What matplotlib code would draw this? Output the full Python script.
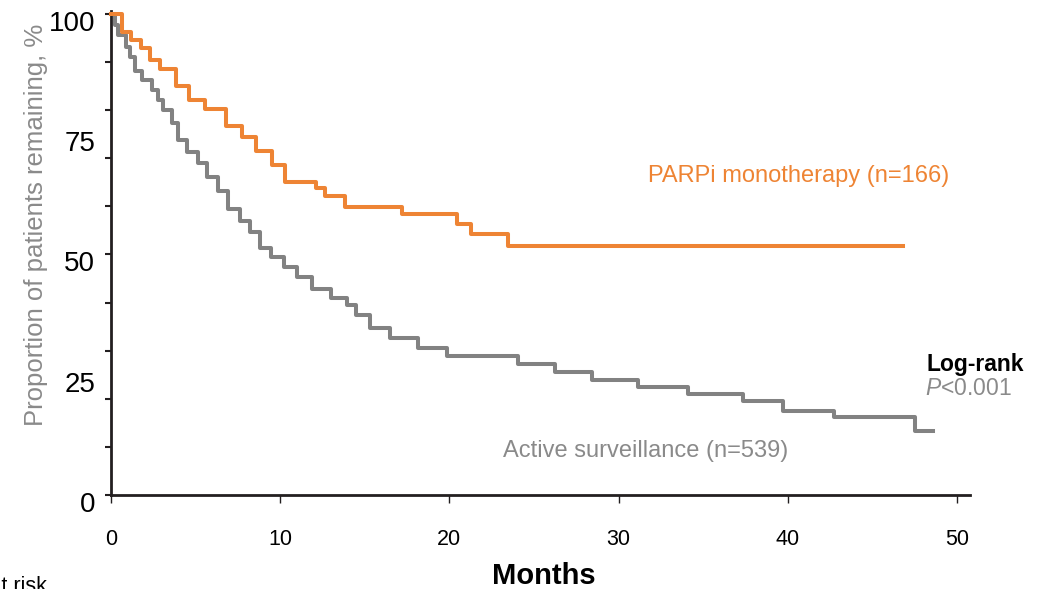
import matplotlib
matplotlib.use("Agg")
import matplotlib.pyplot as plt
import matplotlib.transforms as mtransforms
from matplotlib.ticker import FixedLocator, NullFormatter

plt.rcParams['font.family'] = ['Liberation Sans', 'DejaVu Sans']
plt.rcParams['mathtext.fontset'] = 'custom'
plt.rcParams['mathtext.rm'] = 'Liberation Sans'
plt.rcParams['mathtext.it'] = 'Liberation Sans:italic'

# ---- data ----
parpi_t = [0, 0.63, 1.16, 1.75, 2.3, 2.9, 3.84, 4.63, 5.55, 6.77, 7.72, 8.6, 9.49,
           10.28, 12.1, 12.65, 13.83, 17.17, 20.47, 21.28, 23.48, 46.83]
parpi_s = [100, 96.2, 94.6, 92.9, 90.4, 88.5, 85.0, 82.1, 80.2, 76.7, 74.4, 71.5, 68.5,
           65.1, 63.8, 62.2, 59.8, 58.4, 56.3, 54.3, 51.8, 51.8]

surv_t = [0, 0.24, 0.43, 0.89, 1.12, 1.42, 1.81, 2.4, 2.8, 3.09, 3.59, 3.98, 4.47, 5.16,
          5.66, 6.34, 6.93, 7.62, 8.22, 8.81, 9.44, 10.24, 10.97, 11.86, 13.0, 13.93,
          14.48, 15.31, 16.49, 18.16, 19.84, 24.07, 26.24, 28.45, 31.16, 34.12, 37.33,
          39.73, 42.75, 47.52, 48.6]
surv_s = [100, 97.7, 95.6, 93.2, 91.1, 88.2, 86.3, 84.2, 82.1, 80.0, 77.3, 73.9, 71.4, 69.1,
          66.2, 63.3, 59.4, 57.0, 54.7, 51.3, 49.5, 47.5, 45.4, 42.8, 40.9, 39.5,
          37.4, 34.7, 32.6, 30.5, 28.9, 27.2, 25.5, 23.9, 22.5, 20.9, 19.5,
          17.5, 16.2, 13.4, 13.4]

x_ticks = [0, 10, 20, 30, 40, 50]
y_label_ticks = [0, 25, 50, 75, 100]
y_mark_ticks = [0, 10, 20, 30, 40, 50, 60, 70, 80, 90, 100]

label_parpi = "PARPi monotherapy (n=166)"
label_surv = "Active surveillance (n=539)"

ORANGE = '#EE8434'
GRAY = '#828282'
GRAY_TXT = '#8A8A8A'
DARK = '#231F20'

fig = plt.figure(figsize=(10.53, 5.89), dpi=100)
ax = fig.add_axes([0.1054, 0.1596, 0.8158, 0.8224])

ax.step(surv_t, surv_s, where='post', color=GRAY, lw=2.9, clip_on=False, zorder=3)
ax.step(parpi_t, parpi_s, where='post', color=ORANGE, lw=2.9, clip_on=False, zorder=4)

ax.set_xlim(0, 50.77)
ax.set_ylim(0, 100.7)

for s in ['top', 'right']:
    ax.spines[s].set_visible(False)
for s in ['left', 'bottom']:
    ax.spines[s].set_color(DARK)
    ax.spines[s].set_linewidth(2.0)

ax.set_xticks(x_ticks)
ax.set_xticklabels([str(v) for v in x_ticks])
ax.tick_params(axis='x', which='major', length=5.8, width=1.0, color=DARK,
               labelsize=15.5, pad=19, labelcolor='black')

ax.yaxis.set_major_locator(FixedLocator(y_label_ticks))
ax.set_yticklabels([str(v) for v in y_label_ticks])
ax.yaxis.set_minor_locator(FixedLocator(y_mark_ticks))
ax.yaxis.set_minor_formatter(NullFormatter())
ax.yaxis.remove_overlapping_locs = False
ax.tick_params(axis='y', which='major', length=0, labelsize=20, pad=11.5, labelcolor='black')
ax.tick_params(axis='y', which='minor', length=4.3, width=1.5, color=DARK)
shift = mtransforms.ScaledTranslation(0, -5 / 72, fig.dpi_scale_trans)
for lab in ax.get_yticklabels():
    lab.set_transform(lab.get_transform() + shift)

ax.set_ylabel("Proportion of patients remaining, %", fontsize=18.5, color=GRAY_TXT)
ax.yaxis.set_label_coords(-0.0733, 0.557)

ax.set_xlabel("Months", fontsize=21, fontweight='bold', color='black')
ax.xaxis.set_label_coords(0.504, -0.138)

ax.text(31.74, 65.1, label_parpi, color=ORANGE, fontsize=17, ha='left', va='baseline')
ax.text(23.17, 8.0, label_surv, color=GRAY_TXT, fontsize=17, ha='left', va='baseline')
ax.text(48.2, 25.8, "Log-rank", color='black', fontsize=16.5, fontweight='bold',
        ha='left', va='baseline', clip_on=False)
ax.text(48.1, 20.8, r"$\mathit{P}$<0.001", color=GRAY_TXT, fontsize=16.5,
        ha='left', va='baseline', clip_on=False)

fig.text(47 / 1053, -0.005, "Number at risk", fontsize=15.5, ha='right', va='baseline')

fig.savefig("out.png", dpi=100)
